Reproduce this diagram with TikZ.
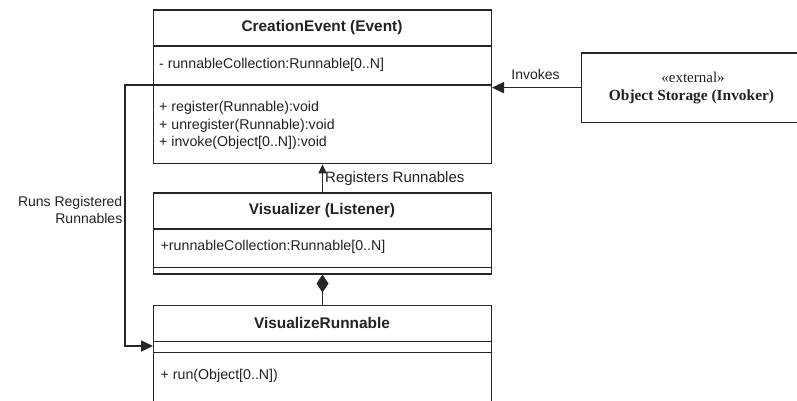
\documentclass[tikz,border=0pt]{standalone}
\usepackage{fontspec}
\setmainfont{Liberation Sans}
\newfontfamily\stereofont{Liberation Serif}
\usetikzlibrary{arrows.meta,calc}

\definecolor{ink}{HTML}{262626}
\definecolor{txt}{HTML}{222222}

\tikzset{
  cls/.style={draw=ink, line width=1.3pt, rectangle, inner sep=0pt, anchor=north west},
  sep/.style={draw=ink, line width=1.3pt},
  hdr/.style={font=\fontsize{15.4}{18}\selectfont\bfseries, text=txt, inner sep=0pt},
  mem/.style={font=\fontsize{14.2}{17}\selectfont, text=txt, inner sep=0pt, anchor=west},
  lbl/.style={font=\fontsize{14}{16.5}\selectfont, text=txt, inner sep=0pt},
  conn/.style={draw=ink, line width=1.3pt},
  arr/.style={conn, -{Triangle[length=12pt,width=11pt]}},
  arrsmall/.style={conn, -{Triangle[length=9pt,width=8pt]}},
  comp/.style={conn, -{Diamond[length=18pt,width=12pt,fill=ink]}}
}

\begin{document}
\begin{tikzpicture}[x=1pt,y=-1pt]
  \useasboundingbox[fill=white] (0,0) rectangle (797,401);

  % ---- CreationEvent (Event)
  \node[cls, minimum width=337.7pt, minimum height=153.5pt] (ce) at (153,9.5) {};
  \coordinate (ceA) at (153,46);
  \coordinate (ceB) at (153,85);
  \draw[sep] (ceA) -- (ceA -| ce.east);
  \draw[sep] (ceB) -- (ceB -| ce.east);
  \node[hdr] (ceT) at (322,28) {CreationEvent (Event)};
  \node[mem] (ceM1) at (159,64.5) {- runnableCollection:Runnable[0..N]};
  \node[mem] (ceM2) at (159,108) {+ register(Runnable):void};
  \node[mem] (ceM3) at (159,125.5) {+ unregister(Runnable):void};
  \node[mem] (ceM4) at (159,143) {+ invoke(Object[0..N]):void};

  % ---- Visualizer (Listener)
  \node[cls, minimum width=337.7pt, minimum height=81pt] (vis) at (153,192.3) {};
  \coordinate (visA) at (153,229);
  \coordinate (visB) at (153,267.7);
  \draw[sep] (visA) -- (visA -| vis.east);
  \draw[sep] (visB) -- (visB -| vis.east);
  \node[hdr] (visT) at (322,211) {Visualizer (Listener)};
  \node[mem] (visM1) at (160.5,247) {+runnableCollection:Runnable[0..N]};

  % ---- VisualizeRunnable (continues below the lower edge)
  \node[cls, minimum width=337.7pt, minimum height=120pt] (vr) at (153,305) {};
  \coordinate (vrA) at (153,341.7);
  \coordinate (vrB) at (153,352.7);
  \draw[sep] (vrA) -- (vrA -| vr.east);
  \draw[sep] (vrB) -- (vrB -| vr.east);
  \node[hdr] (vrT) at (322,323) {VisualizeRunnable};
  \node[mem] (vrM1) at (160.5,375.5) {+ run(Object[0..N])};

  % ---- external invoker (continues past the right edge)
  \node[cls, minimum width=240pt, minimum height=69.4pt] (os) at (581,52.3) {};
  \node[font=\stereofont\fontsize{15}{17}\selectfont, text=txt, inner sep=0pt] (osS) at (693,77) {«external»};
  \node[font=\stereofont\fontsize{15.4}{18}\selectfont\bfseries, text=txt, inner sep=0pt] (osT) at (691.5,97) {Object Storage (Invoker)};

  % ---- connectors
  \draw[arr] (os.west) -- (os.west -| ce.east);
  \node[lbl] (invL) at (535.5,74) {Invokes};

  \draw[arrsmall] (vis.north) -- (ce.south);
  \node[lbl, font=\fontsize{15}{17}\selectfont, anchor=west] (regL) at (325,178.5) {Registers Runnables};

  \draw[comp] (vr.north) -- (vis.south);

  \coordinate (vrIn) at (153,346);
  \draw[arr] (ceB) -- ++(-28,0) |- (vrIn);
  \node[lbl, align=right, anchor=east] (runL) at (122.5,210) {Runs Registered\\Runnables};
\end{tikzpicture}
\end{document}
